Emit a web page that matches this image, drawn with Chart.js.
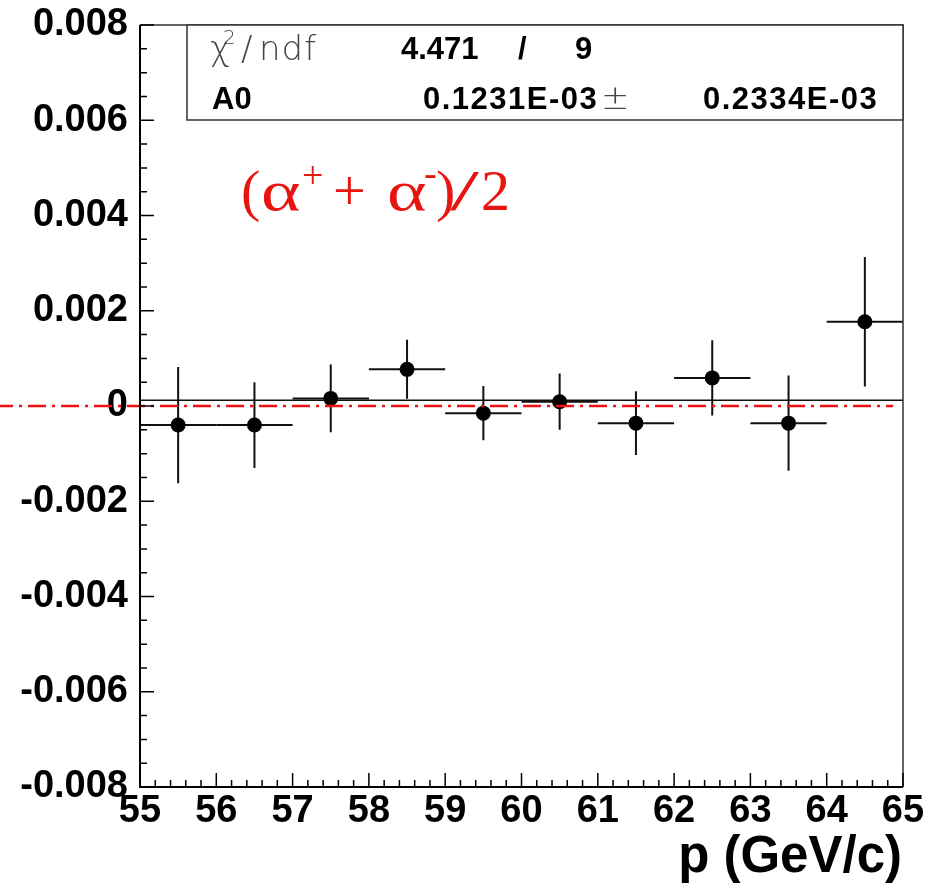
<!DOCTYPE html>
<html>
<head>
<meta charset="utf-8">
<script src="https://cdn.jsdelivr.net/npm/chart.js@4.4.1/dist/chart.umd.min.js"></script>
<style>
  html, body { margin: 0; padding: 0; background: #fff; }
  canvas { display: block; }
</style>
</head>
<body>
<canvas id="asymChart" width="940" height="891"></canvas>
<script>
// bin centres (GeV/c), measured asymmetry and its error
const momentum = [55.5, 56.5, 57.5, 58.5, 59.5, 60.5, 61.5, 62.5, 63.5, 64.5];
const asym     = [-0.00040, -0.00040, 0.00016, 0.00077, -0.00015, 0.00009, -0.00036, 0.00059, -0.00036, 0.00177];
const asymErr  = [0.00122, 0.00090, 0.00071, 0.00062, 0.00057, 0.00059, 0.00067, 0.00079, 0.00100, 0.00136];
const binHalf  = 0.5;

// constant fit
const fitA0    = 0.0001231;
const fitA0Err = 0.0002334;
const chi2     = 4.471;
const ndf      = 9;

// dash-dot zero reference
const zeroRefX = [53.1, 64.87];
const zeroRefY = 0;

const xTickValues = [55, 56, 57, 58, 59, 60, 61, 62, 63, 64, 65];
const yTickValues = [-0.008, -0.006, -0.004, -0.002, 0, 0.002, 0.004, 0.006, 0.008];

const fmtE03 = v => (v * 1e3).toFixed(4) + 'E-03';

/* ── error bars, drawn under the markers ── */
const errorBars = {
  id: 'errorBars',
  beforeDatasetsDraw(chart) {
    const { ctx, scales: { x, y } } = chart;
    ctx.save();
    ctx.strokeStyle = '#111';
    ctx.lineWidth = 2;
    momentum.forEach((m, i) => {
      const px = x.getPixelForValue(m);
      const py = y.getPixelForValue(asym[i]);
      ctx.beginPath();
      ctx.moveTo(x.getPixelForValue(m - binHalf), py);
      ctx.lineTo(x.getPixelForValue(m + binHalf), py);
      ctx.moveTo(px, y.getPixelForValue(asym[i] + asymErr[i]));
      ctx.lineTo(px, y.getPixelForValue(asym[i] - asymErr[i]));
      ctx.stroke();
    });
    ctx.restore();
  }
};

/* ── frame with inward ticks, stat box, labels ── */
const frame = {
  id: 'frame',
  afterDraw(chart) {
    const { ctx, chartArea: a, scales: { x, y } } = chart;
    ctx.save();

    // top / right frame
    ctx.strokeStyle = '#333';
    ctx.lineWidth = 1.5;
    ctx.beginPath();
    ctx.moveTo(a.left, a.top);
    ctx.lineTo(a.right, a.top);
    ctx.lineTo(a.right, a.bottom);
    ctx.stroke();

    // axes
    ctx.strokeStyle = '#000';
    ctx.lineWidth = 2;
    ctx.beginPath();
    ctx.moveTo(a.left, a.top);
    ctx.lineTo(a.left, a.bottom);
    ctx.lineTo(a.right, a.bottom);
    ctx.stroke();

    // ticks
    ctx.lineWidth = 1.5;
    ctx.beginPath();
    for (let i = 0; i <= 50; i++) {
      const v = xTickValues[0] + i * 0.2;
      const px = x.getPixelForValue(v);
      const len = i % 5 === 0 ? 14 : 7;
      ctx.moveTo(px, a.bottom);
      ctx.lineTo(px, a.bottom - len);
    }
    for (let i = 0; i <= 32; i++) {
      const v = yTickValues[0] + i * 0.0005;
      const py = y.getPixelForValue(v);
      const len = i % 4 === 0 ? 14 : 7;
      ctx.moveTo(a.left, py);
      ctx.lineTo(a.left + len, py);
    }
    ctx.stroke();

    // axis title
    ctx.fillStyle = '#000';
    ctx.font = 'bold 51px "Liberation Sans"';
    ctx.textAlign = 'right';
    ctx.textBaseline = 'alphabetic';
    ctx.fillText('p (GeV/c)', a.right - 1, 872);

    // stat box
    const bx = 187, by = a.top, bw = a.right - 187, bh = 95;
    ctx.fillStyle = '#fff';
    ctx.fillRect(bx, by, bw, bh);
    ctx.strokeStyle = '#333';
    ctx.lineWidth = 1.5;
    ctx.strokeRect(bx, by, bw, bh);

    ctx.textAlign = 'left';
    ctx.fillStyle = '#444';
    ctx.font = '300 34px "DejaVu Sans"';
    ctx.fillText('χ', 210, 60);
    ctx.font = '300 20px "DejaVu Sans"';
    ctx.fillText('2', 223, 44);
    ctx.font = '300 34px "DejaVu Sans"';
    ctx.fillText('/', 241, 60);
    ctx.letterSpacing = '1px';
    ctx.fillText('ndf', 259, 60);
    ctx.letterSpacing = '0px';
    ctx.fillText('±', 601, 109);

    ctx.fillStyle = '#000';
    ctx.font = 'bold 31px "Liberation Sans"';
    ctx.fillText(chi2.toFixed(3), 401, 59);
    ctx.fillText('/', 518, 59);
    ctx.fillText(String(ndf), 575, 59);
    ctx.fillText('A0', 212, 109);
    ctx.letterSpacing = '1.5px';
    ctx.fillText(fmtE03(fitA0), 423, 109);
    ctx.fillText(fmtE03(fitA0Err), 703, 109);
    ctx.letterSpacing = '0px';

    // (α+ + α-)/2
    ctx.fillStyle = '#e8140f';
    const big = '58px "Liberation Serif"', small = '38px "Liberation Serif"';
    const put = (t, font, px, dy, sx = 1) => {
      ctx.save();
      ctx.font = font;
      ctx.translate(px, 210 + dy);
      ctx.scale(sx, 1);
      ctx.fillText(t, 0, 0);
      ctx.restore();
    };
    put('(', big, 241, 0);
    put('α', big, 261, 0, 1.3);
    put('+', small, 302, -22);
    put('+', big, 333, 0);
    put('α', big, 387, 0, 1.3);
    put('-', small, 424, -24);
    put(')', big, 436, 0);
    put('/', big, 450, 0, 1.8);
    put('2', big, 481, 0);

    ctx.restore();
  }
};

new Chart(document.getElementById('asymChart'), {
  type: 'scatter',
  data: {
    datasets: [
      {
        label: 'asym',
        data: momentum.map((m, i) => ({ x: m, y: asym[i] })),
        pointRadius: 7.5,
        pointBackgroundColor: '#000',
        pointBorderWidth: 0,
        order: 1,
      },
      {
        label: 'fit',
        data: [{ x: xTickValues[0], y: fitA0 }, { x: xTickValues[xTickValues.length - 1], y: fitA0 }],
        showLine: true,
        borderColor: '#111',
        borderWidth: 1.5,
        pointRadius: 0,
        order: 2,
      },
      {
        label: 'zero',
        data: zeroRefX.map(v => ({ x: v, y: zeroRefY })),
        showLine: true,
        borderColor: '#f01010',
        borderWidth: 2.5,
        borderDash: [18, 6, 3, 6],
        pointRadius: 0,
        clip: false,
        order: 0,
      }
    ]
  },
  options: {
    responsive: false,
    animation: false,
    devicePixelRatio: 1,
    layout: { padding: { top: 25, right: 37, left: 0, bottom: 0 } },
    plugins: {
      legend: { display: false },
      tooltip: { enabled: false },
    },
    scales: {
      x: {
        type: 'linear',
        min: 55, max: 65,
        grid: { display: false, drawTicks: false },
        border: { display: false },
        afterBuildTicks: s => { s.ticks = xTickValues.map(v => ({ value: v })); },
        afterFit: s => { s.height = 104; s.paddingLeft = 0; s.paddingRight = 0; },
        ticks: {
          padding: 2,
          color: '#000',
          font: { family: 'Liberation Sans', weight: 'bold', size: 38 },
          maxRotation: 0,
          autoSkip: false,
        }
      },
      y: {
        type: 'linear',
        min: -0.008, max: 0.008,
        grid: { display: false, drawTicks: false },
        border: { display: false },
        afterBuildTicks: s => { s.ticks = yTickValues.map(v => ({ value: v })); },
        afterFit: s => { s.width = 140; s.paddingTop = 0; s.paddingBottom = 0; },
        ticks: {
          padding: 12,
          color: '#000',
          font: { family: 'Liberation Sans', weight: 'bold', size: 38 },
          autoSkip: false,
          callback: v => Math.abs(v) < 1e-9 ? '0' : v.toFixed(3),
        }
      }
    }
  },
  plugins: [errorBars, frame]
});
</script>
</body>
</html>
